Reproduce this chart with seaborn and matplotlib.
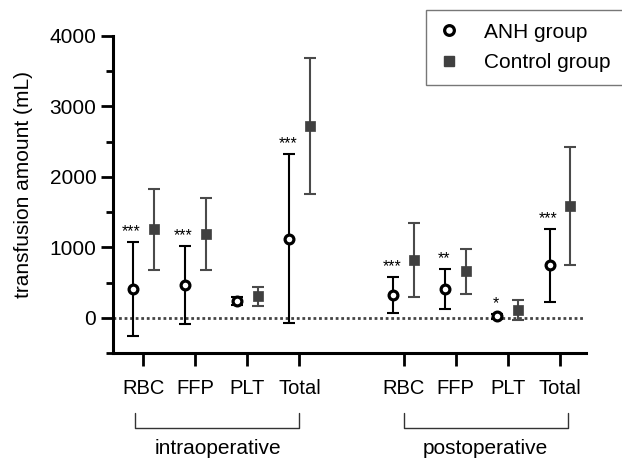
import numpy as np
import pandas as pd
import matplotlib
matplotlib.use("Agg")
import matplotlib.pyplot as plt
import matplotlib.transforms as mtransforms
from matplotlib.lines import Line2D
import seaborn as sns

# values (mean, SD) in mL
categories = ["RBC", "FFP", "PLT", "Total", "RBC", "FFP", "PLT", "Total"]
positions = [0, 1, 2, 3, 5, 6, 7, 8]
anh_mean = [410, 468, 241, 1125, 322, 407, 19, 742]
anh_sd = [670, 550, 60, 1200, 260, 280, 30, 515]
ctrl_mean = [1255, 1191, 302, 2728, 818, 657, 113, 1589]
ctrl_sd = [573, 513, 140, 965, 527, 325, 145, 835]
stars = ["***", "***", "", "***", "***", "**", "*", "***"]
periods = ["intraoperative", "postoperative"]

sns.set_style("ticks")
plt.rcParams["font.family"] = ["Liberation Sans", "DejaVu Sans"]
plt.rcParams["text.color"] = "black"
plt.rcParams["axes.labelcolor"] = "black"
plt.rcParams["xtick.color"] = "black"
plt.rcParams["ytick.color"] = "black"

df = pd.DataFrame({
    "pos": positions * 2,
    "mean": anh_mean + ctrl_mean,
    "sd": anh_sd + ctrl_sd,
    "group": ["ANH group"] * 8 + ["Control group"] * 8,
})
offset = {"ANH group": -0.2, "Control group": 0.2}
df["x"] = df["pos"] + df["group"].map(offset)
anh = df[df["group"] == "ANH group"]
ctrl = df[df["group"] == "Control group"]

fig = plt.figure(figsize=(6.22, 4.59), dpi=100)
ax = fig.add_axes([0.1817, 0.231, 0.7604, 0.6906])

ax.axhline(0, xmin=0, xmax=0.995, color="#444444", lw=2,
           linestyle=(0, (1, 1)), zorder=1)

ax.errorbar(anh["x"], anh["mean"], yerr=anh["sd"], fmt="none",
            ecolor="black", elinewidth=1.5, capsize=4, capthick=1.5, zorder=2)
ax.errorbar(ctrl["x"], ctrl["mean"], yerr=ctrl["sd"], fmt="none",
            ecolor="#4a4a4a", elinewidth=1.5, capsize=4, capthick=1.5, zorder=2)

sns.scatterplot(data=anh, x="x", y="mean", marker="o", s=40,
                facecolor="white", edgecolor="black", linewidth=2.3,
                ax=ax, zorder=3, legend=False)
sns.scatterplot(data=ctrl, x="x", y="mean", marker="s", s=45,
                color="#404040", edgecolor="#404040", linewidth=0.5,
                ax=ax, zorder=3, legend=False)

for x, m, s, st in zip(anh["x"], anh["mean"], anh["sd"], stars):
    if st:
        ax.annotate(st, (x, m + s), xytext=(-1, 2), textcoords="offset points",
                    ha="center", va="bottom", fontsize=11.5)

ax.set_xlim(-0.58, 8.5)
ax.set_ylim(-500, 4000)
ax.set_xticks(positions)
ax.set_xticklabels(categories, fontsize=14.5)
ax.set_yticks([0, 1000, 2000, 3000, 4000])
ax.set_yticks([-500, 500, 1500, 2500, 3500], minor=True)
ax.tick_params(axis="y", labelsize=15, length=9, width=2, pad=3)
ax.tick_params(axis="y", which="minor", length=5, width=2)
ax.tick_params(axis="x", length=9, width=2, pad=10)
ax.set_xlabel("")
ax.set_ylabel("transfusion amount (mL)", fontsize=15)
ax.yaxis.set_label_coords(-0.17, 0.53)
for side in ["left", "bottom"]:
    ax.spines[side].set_linewidth(2.2)
    ax.spines[side].set_color("black")
sns.despine(ax=ax)

# period brackets under the axis
trans = mtransforms.blended_transform_factory(ax.transData, ax.transAxes)
for (x0, x1), label in zip([(-0.15, 3.0), (5.0, 8.15)], periods):
    ax.plot([x0, x0, x1, x1], [-0.189, -0.237, -0.237, -0.189], transform=trans,
            color="#333333", lw=1, clip_on=False)
    ax.text((x0 + x1) / 2, -0.30, label, transform=trans, ha="center",
            va="center", fontsize=15)

handles = [
    Line2D([], [], marker="o", linestyle="none", markersize=7,
           markerfacecolor="white", markeredgecolor="black", markeredgewidth=2.3),
    Line2D([], [], marker="s", linestyle="none", markersize=7,
           markerfacecolor="#404040", markeredgecolor="#404040"),
]
leg = fig.legend(handles, ["ANH group", "Control group"], loc="upper right",
                 bbox_to_anchor=(1.002, 0.978), borderaxespad=0, fontsize=15,
                 frameon=True, fancybox=False, edgecolor="#555555",
                 handlelength=1, handletextpad=1.2, labelspacing=0.55,
                 borderpad=0.6)
leg.get_frame().set_linewidth(1)

fig.savefig("out.png", dpi=100)
